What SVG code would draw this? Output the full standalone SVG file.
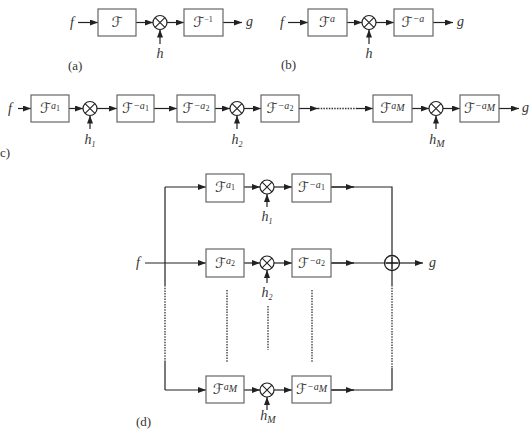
<svg xmlns="http://www.w3.org/2000/svg" width="530" height="429" viewBox="0 0 530 429">
<defs>
<marker id="ah" viewBox="0 0 8 6" refX="8" refY="3" markerWidth="8" markerHeight="6" markerUnits="userSpaceOnUse" orient="auto">
<path d="M0,0 L8,3 L0,6 z" fill="#222"/>
</marker>
<g id="mult"><circle r="7" fill="#fff" stroke="#222" stroke-width="1.2"/><path d="M-4.9,-4.9 L4.9,4.9 M-4.9,4.9 L4.9,-4.9" stroke="#222" stroke-width="1.1"/></g>
</defs>
<style>
.bx{fill:#fff;stroke:#666;stroke-width:1.2}
.ln{fill:none;stroke:#222;stroke-width:1.2}
.ar{fill:none;stroke:#222;stroke-width:1.2;marker-end:url(#ah)}
.dt{fill:none;stroke:#333;stroke-width:1.3;stroke-dasharray:1.5 1.2}
.v{font-family:"Liberation Serif",serif;font-style:italic;font-size:14px;fill:#333}
.lb{font-family:"Liberation Serif",serif;font-size:13px;fill:#333}
.op{font-family:"DejaVu Sans","Noto Sans",sans-serif;font-size:14px;fill:#333;text-anchor:middle}
.sp{font-family:"Liberation Serif",serif;font-style:italic;font-size:10px}
.ss{font-family:"Liberation Serif",serif;font-size:8px}
.c{text-anchor:middle}
</style>

<g id="connectors">
<!-- (a) -->
<path class="ar" d="M78,22.5 H98"/>
<path class="ar" d="M136,22.5 H153"/>
<path class="ar" d="M167,22.5 H184"/>
<path class="ar" d="M223,22.5 H242"/>
<path class="ar" d="M160,44 V29.5"/>
<!-- (b) -->
<path class="ar" d="M288,22.5 H308"/>
<path class="ar" d="M347,22.5 H362"/>
<path class="ar" d="M376,22.5 H394"/>
<path class="ar" d="M433,22.5 H453"/>
<path class="ar" d="M369,44 V29.5"/>
<!-- (c) -->
<path class="ar" d="M18,108.5 H31"/>
<path class="ar" d="M69,108.5 H83"/>
<path class="ar" d="M97,108.5 H117"/>
<path class="ar" d="M154,108.5 H177"/>
<path class="ar" d="M215,108.5 H230"/>
<path class="ar" d="M244,108.5 H261"/>
<path class="ar" d="M299,108.5 H318"/>
<path class="dt" d="M318,108.5 H357"/>
<path class="ar" d="M357,108.5 H373"/>
<path class="ar" d="M412,108.5 H429"/>
<path class="ar" d="M443,108.5 H460"/>
<path class="ar" d="M499,108.5 H519"/>
<path class="ar" d="M90,129 V115.5"/>
<path class="ar" d="M237,129 V115.5"/>
<path class="ar" d="M436,129 V115.5"/>
<!-- (d) -->
<path class="ln" d="M165,285 V187"/>
<path class="dt" d="M165,285 V362"/>
<path class="ln" d="M165,362 V390"/>
<path class="ar" d="M165,187 H206"/>
<path class="ar" d="M145,263 H206"/>
<path class="ar" d="M165,390 H206"/>
<path class="ar" d="M244,187 H260"/>
<path class="ar" d="M244,263 H260"/>
<path class="ar" d="M244,390 H260"/>
<path class="ar" d="M274,187 H292"/>
<path class="ar" d="M274,263 H292"/>
<path class="ar" d="M274,390 H292"/>
<path class="ln" d="M331,187 H392 V256"/>
<path class="ln" d="M331,263 H385"/>
<path class="ln" d="M331,390 H392 V368"/>
<path class="ar" d="M331,187 H354"/>
<path class="ar" d="M331,263 H354"/>
<path class="ar" d="M331,390 H354"/>
<path class="ln" d="M392,270 V285"/>
<path class="dt" d="M392,285 V368"/>
<path class="ar" d="M399,263 H423"/>
<path class="ar" d="M267,207 V194"/>
<path class="ar" d="M267,283 V270"/>
<path class="ar" d="M267,410 V397"/>
<path class="dt" d="M227,290 V362"/>
<path class="dt" d="M268,306 V350"/>
<path class="dt" d="M312,290 V362"/>
</g>

<!-- (a) nodes -->
<g id="a-f"><text class="v" x="70" y="27">f</text></g>
<g id="a-F"><rect class="bx" x="98" y="9" width="38" height="27"/><text class="op" x="117" y="27">ℱ</text></g>
<g id="a-x"><use href="#mult" x="160" y="22.5"/></g>
<g id="a-Finv"><rect class="bx" x="184" y="9" width="39" height="27"/><text class="op" x="203" y="27">ℱ<tspan class="ss" font-size="10px" dy="-5">−1</tspan></text></g>
<g id="a-g"><text class="v" x="246" y="26">g</text></g>
<g id="a-h"><text class="v c" x="160" y="58">h</text></g>
<text class="lb" x="68" y="70">(a)</text>

<!-- (b) nodes -->
<g id="b-f"><text class="v" x="280" y="27">f</text></g>
<g id="b-F"><rect class="bx" x="308" y="9" width="39" height="27"/><text class="op" x="327" y="27">ℱ<tspan class="sp" dy="-5">a</tspan></text></g>
<g id="b-x"><use href="#mult" x="369" y="22.5"/></g>
<g id="b-Finv"><rect class="bx" x="394" y="9" width="39" height="27"/><text class="op" x="413" y="27">ℱ<tspan class="sp" dy="-5">−a</tspan></text></g>
<g id="b-g"><text class="v" x="457" y="26">g</text></g>
<g id="b-h"><text class="v c" x="369" y="58">h</text></g>
<text class="lb" x="281" y="69">(b)</text>

<!-- (c) nodes -->
<g id="c-f"><text class="v" x="8" y="113">f</text></g>
<g id="c-F1"><rect class="bx" x="31" y="95" width="38" height="27"/><text class="op" x="50" y="113">ℱ<tspan class="sp" dy="-4">a</tspan><tspan class="ss" dy="2">1</tspan></text></g>
<g id="c-x1"><use href="#mult" x="90" y="108.5"/></g>
<g id="c-F1i"><rect class="bx" x="117" y="95" width="37" height="27"/><text class="op" x="135.5" y="113">ℱ<tspan class="sp" dy="-4">−a</tspan><tspan class="ss" dy="2">1</tspan></text></g>
<g id="c-F2i"><rect class="bx" x="177" y="95" width="38" height="27"/><text class="op" x="196" y="113">ℱ<tspan class="sp" dy="-4">−a</tspan><tspan class="ss" dy="2">2</tspan></text></g>
<g id="c-x2"><use href="#mult" x="237" y="108.5"/></g>
<g id="c-F2ii"><rect class="bx" x="261" y="95" width="38" height="27"/><text class="op" x="280" y="113">ℱ<tspan class="sp" dy="-4">−a</tspan><tspan class="ss" dy="2">2</tspan></text></g>
<g id="c-FM"><rect class="bx" x="373" y="95" width="39" height="27"/><text class="op" x="392.5" y="113">ℱ<tspan class="sp" dy="-4">a</tspan><tspan class="sp" font-size="8px" dy="2">M</tspan></text></g>
<g id="c-xM"><use href="#mult" x="436" y="108.5"/></g>
<g id="c-FMi"><rect class="bx" x="460" y="95" width="39" height="27"/><text class="op" x="479.5" y="113">ℱ<tspan class="sp" dy="-4">−a</tspan><tspan class="sp" font-size="8px" dy="2">M</tspan></text></g>
<g id="c-g"><text class="v" x="522" y="112">g</text></g>
<g id="c-h1"><text class="v c" x="90" y="144">h<tspan class="ss" dy="3">1</tspan></text></g>
<g id="c-h2"><text class="v c" x="237" y="144">h<tspan class="ss" dy="3">2</tspan></text></g>
<g id="c-hM"><text class="v c" x="437" y="144">h<tspan class="sp" font-size="9px" dy="3">M</tspan></text></g>
<text class="lb" x="0" y="157">c)</text>

<!-- (d) nodes -->
<g id="d-f"><text class="v" x="136" y="267">f</text></g>
<g id="d-F1"><rect class="bx" x="206" y="174" width="38" height="28"/><text class="op" x="225" y="192">ℱ<tspan class="sp" dy="-4">a</tspan><tspan class="ss" dy="2">1</tspan></text></g>
<g id="d-x1"><use href="#mult" x="267" y="187"/></g>
<g id="d-F1i"><rect class="bx" x="292" y="174" width="39" height="28"/><text class="op" x="311.5" y="192">ℱ<tspan class="sp" dy="-4">−a</tspan><tspan class="ss" dy="2">1</tspan></text></g>
<g id="d-F2"><rect class="bx" x="206" y="249" width="38" height="28"/><text class="op" x="225" y="268">ℱ<tspan class="sp" dy="-4">a</tspan><tspan class="ss" dy="2">2</tspan></text></g>
<g id="d-x2"><use href="#mult" x="267" y="263"/></g>
<g id="d-F2i"><rect class="bx" x="292" y="249" width="39" height="28"/><text class="op" x="311.5" y="268">ℱ<tspan class="sp" dy="-4">−a</tspan><tspan class="ss" dy="2">2</tspan></text></g>
<g id="d-FM"><rect class="bx" x="206" y="376" width="38" height="27"/><text class="op" x="225" y="394">ℱ<tspan class="sp" dy="-4">a</tspan><tspan class="sp" font-size="8px" dy="2">M</tspan></text></g>
<g id="d-xM"><use href="#mult" x="267" y="390"/></g>
<g id="d-FMi"><rect class="bx" x="292" y="376" width="39" height="27"/><text class="op" x="311.5" y="394">ℱ<tspan class="sp" dy="-4">−a</tspan><tspan class="sp" font-size="8px" dy="2">M</tspan></text></g>
<g id="d-sum"><circle cx="392" cy="263" r="7.5" fill="#fff" stroke="#222" stroke-width="1.3"/><path d="M392,256.5 V269.5 M385.5,263 H398.5" fill="none" stroke="#111" stroke-width="1.4"/></g>
<g id="d-g"><text class="v" x="429" y="267">g</text></g>
<g id="d-h1"><text class="v c" x="267" y="221">h<tspan class="ss" dy="3">1</tspan></text></g>
<g id="d-h2"><text class="v c" x="267" y="297">h<tspan class="ss" dy="3">2</tspan></text></g>
<g id="d-hM"><text class="v c" x="268" y="420">h<tspan class="sp" font-size="9px" dy="3">M</tspan></text></g>
<text class="lb" x="136" y="426">(d)</text>
</svg>
